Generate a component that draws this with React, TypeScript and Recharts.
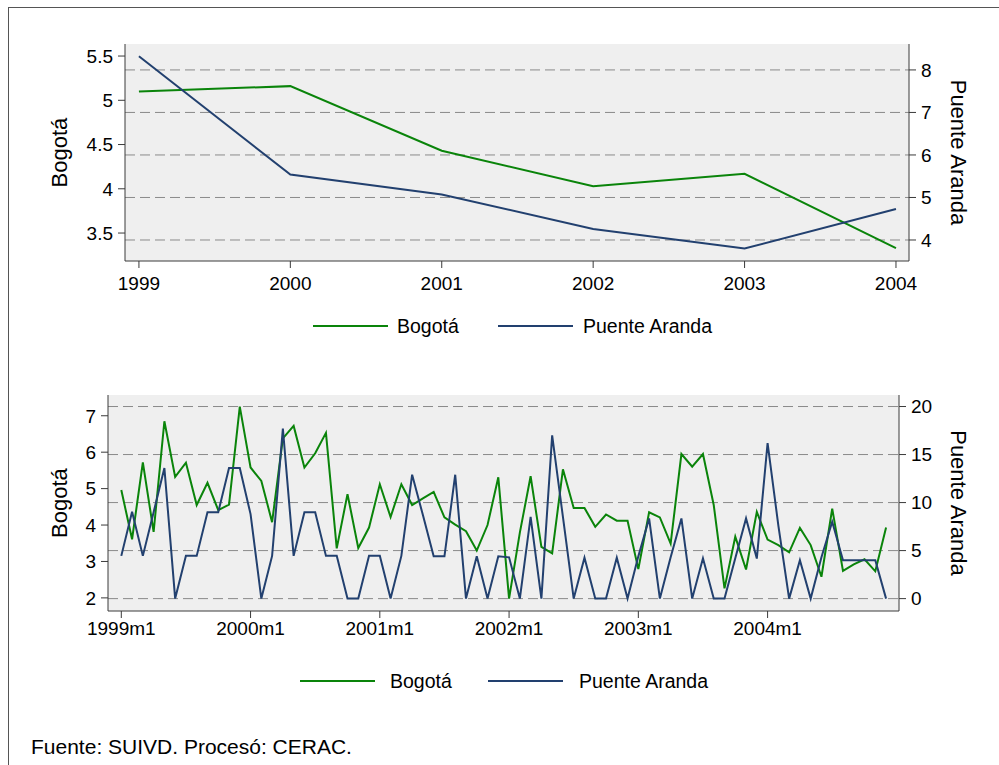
import React from 'react';
import { LineChart, Line, XAxis, YAxis, CartesianGrid } from 'recharts';

const FONT = '"Liberation Sans", Arial, sans-serif';
const VERDE = '#0a840a';
const AZUL = '#22406f';
const EJE = '#3a3a3a';

// Serie anual (panel superior)
const anios = [1999, 2000, 2001, 2002, 2003, 2004];
const bogotaAnual = [5.1, 5.16, 4.43, 4.03, 4.17, 3.33];
const puenteAnual = [8.32, 5.54, 5.07, 4.26, 3.8, 4.73];

// Serie mensual (panel inferior), 1999m1 .. 2004m12
const bogotaMensual = [
  4.96, 3.61, 5.72, 3.81, 6.85, 5.32, 5.71, 4.55, 5.16, 4.41, 4.56, 7.25,
  5.58, 5.21, 4.08, 6.38, 6.72, 5.58, 5.97, 6.53, 3.36, 4.85, 3.37, 3.93,
  5.12, 4.22, 5.12, 4.55, 4.73, 4.91, 4.21, 4.01, 3.83, 3.3, 4.0, 5.31,
  1.98, 3.79, 5.34, 3.4, 3.22, 5.53, 4.47, 4.47, 3.95, 4.29, 4.12, 4.12,
  2.79, 4.35, 4.21, 3.49, 5.95, 5.6, 5.95, 4.55, 2.26, 3.68, 2.78, 4.36,
  3.6, 3.45, 3.25, 3.92, 3.45, 2.58, 4.45, 2.74, 2.92, 3.06, 2.73, 3.93,
];
const puenteMensual = [
  4.45, 9.05, 4.45, 9.0, 13.6, 0, 4.45, 4.45, 9.0, 9.0, 13.6, 13.6,
  8.8, 0, 4.45, 17.7, 4.45, 9.0, 9.0, 4.45, 4.45, 0, 0, 4.45,
  4.45, 0, 4.45, 12.9, 8.7, 4.4, 4.4, 12.9, 0, 4.4, 0, 4.4,
  4.3, 0, 8.5, 0, 17.0, 8.5, 0, 4.25, 0, 0, 4.25, 0,
  4.4, 8.35, 0, 4.3, 8.35, 0, 4.2, 0, 0, 4.2, 8.35, 4.17,
  16.2, 7.6, 0, 4.0, 0, 4.3, 8.0, 4.0, 4.0, 4.0, 4.0, 0,
];
const mesesTicks = [0, 12, 24, 36, 48, 60];
const mesesEtiquetas = ['1999m1', '2000m1', '2001m1', '2002m1', '2003m1', '2004m1'];

const datosAnuales = anios.map((a, i) => ({ anio: a, bogota: bogotaAnual[i], puente: puenteAnual[i] }));
const datosMensuales = bogotaMensual.map((b, i) => ({ mes: i, bogota: b, puente: puenteMensual[i] }));

const TICK = { fontSize: 19, fill: '#000', fontFamily: FONT };

const tituloY = (texto: string, cx: number, angle: number) => (props: any) => {
  const vb = props.viewBox || { y: 0, height: 0 };
  const cy = vb.y + vb.height / 2;
  return (
    <text
      x={cx}
      y={cy}
      transform={`rotate(${angle} ${cx} ${cy})`}
      textAnchor="middle"
      dominantBaseline="central"
      fontSize={22}
      fontFamily={FONT}
      fill="#000"
    >
      {texto}
    </text>
  );
};

function Leyenda({ top, items }: { top: number; items: { x1: number; x2: number; tx: number; color: string; texto: string }[] }) {
  return (
    <>
      {items.map((it) => (
        <React.Fragment key={it.texto}>
          <div style={{ position: 'absolute', left: it.x1, top: top - 1, width: it.x2 - it.x1, height: 2, background: it.color }} />
          <div style={{ position: 'absolute', left: it.tx, top: top - 12, fontSize: 19.5, lineHeight: '24px', fontFamily: FONT, color: '#000' }}>
            {it.texto}
          </div>
        </React.Fragment>
      ))}
    </>
  );
}

export default function App() {
  return (
    <div style={{ position: 'absolute', left: 0, top: 0, width: 999, height: 765, overflow: 'hidden', background: '#fff' }}>
      <div style={{ position: 'absolute', left: 8, top: 7, width: 1100, height: 900, borderLeft: '1px solid #555', borderTop: '1px solid #555' }} />

      {/* Panel anual */}
      <div style={{ position: 'absolute', left: 0, top: 0 }}>
        <LineChart width={999} height={300} data={datosAnuales} margin={{ top: 44, right: 30, bottom: 9, left: 65 }}>
          <CartesianGrid yAxisId="der" vertical={false} syncWithTicks fill="#efefef" stroke="#8a8a8a" strokeDasharray="10 5" />
          <XAxis
            dataKey="anio"
            type="number"
            domain={[1998.908, 2004.086]}
            ticks={anios}
            allowDataOverflow
            tickSize={7}
            tickMargin={9}
            stroke={EJE}
            tick={TICK}
          />
          <YAxis
            yAxisId="izq"
            width={60}
            domain={[3.184, 5.636]}
            ticks={[3.5, 4, 4.5, 5, 5.5]}
            allowDataOverflow
            tickSize={7}
            tickMargin={5}
            stroke={EJE}
            tick={TICK}
            label={{ content: tituloY('Bogotá', 59, -90) }}
          />
          <YAxis
            yAxisId="der"
            orientation="right"
            width={60}
            domain={[3.506, 8.61]}
            ticks={[4, 5, 6, 7, 8]}
            allowDataOverflow
            tickSize={7}
            tickMargin={5}
            stroke={EJE}
            tick={TICK}
            label={{ content: tituloY('Puente Aranda', 958, 90) }}
          />
          <Line yAxisId="izq" type="linear" dataKey="bogota" stroke={VERDE} strokeWidth={2} dot={false} isAnimationActive={false} />
          <Line yAxisId="der" type="linear" dataKey="puente" stroke={AZUL} strokeWidth={2} dot={false} isAnimationActive={false} />
        </LineChart>
      </div>
      <Leyenda
        top={326}
        items={[
          { x1: 313, x2: 388, tx: 397, color: VERDE, texto: 'Bogotá' },
          { x1: 498, x2: 573, tx: 583, color: AZUL, texto: 'Puente Aranda' },
        ]}
      />

      {/* Panel mensual */}
      <div style={{ position: 'absolute', left: 0, top: 340 }}>
        <LineChart width={999} height={320} data={datosMensuales} margin={{ top: 55, right: 40, bottom: 19, left: 48 }}>
          <CartesianGrid yAxisId="der" vertical={false} syncWithTicks fill="#efefef" stroke="#8a8a8a" strokeDasharray="10 5" />
          <XAxis
            dataKey="mes"
            type="number"
            domain={[-1.235, 72.2]}
            ticks={mesesTicks}
            tickFormatter={(v: number) => mesesEtiquetas[mesesTicks.indexOf(v)] ?? ''}
            allowDataOverflow
            tickSize={7}
            tickMargin={4}
            stroke={EJE}
            tick={TICK}
          />
          <YAxis
            yAxisId="izq"
            width={60}
            domain={[1.64, 7.57]}
            ticks={[2, 3, 4, 5, 6, 7]}
            allowDataOverflow
            tickSize={7}
            tickMargin={5}
            stroke={EJE}
            tick={TICK}
            label={{ content: tituloY('Bogotá', 59, -90) }}
          />
          <YAxis
            yAxisId="der"
            orientation="right"
            width={60}
            domain={[-1.29, 21.2]}
            ticks={[0, 5, 10, 15, 20]}
            allowDataOverflow
            tickSize={7}
            tickMargin={5}
            stroke={EJE}
            tick={TICK}
            label={{ content: tituloY('Puente Aranda', 958, 90) }}
          />
          <Line yAxisId="izq" type="linear" dataKey="bogota" stroke={VERDE} strokeWidth={2} dot={false} isAnimationActive={false} />
          <Line yAxisId="der" type="linear" dataKey="puente" stroke={AZUL} strokeWidth={2} dot={false} isAnimationActive={false} />
        </LineChart>
      </div>
      <Leyenda
        top={681}
        items={[
          { x1: 300, x2: 375, tx: 390, color: VERDE, texto: 'Bogotá' },
          { x1: 488, x2: 563, tx: 579, color: AZUL, texto: 'Puente Aranda' },
        ]}
      />

      <div style={{ position: 'absolute', left: 31, top: 734, fontSize: 21, lineHeight: '26px', fontFamily: FONT, color: '#000' }}>
        Fuente: SUIVD. Procesó: CERAC.
      </div>
    </div>
  );
}
